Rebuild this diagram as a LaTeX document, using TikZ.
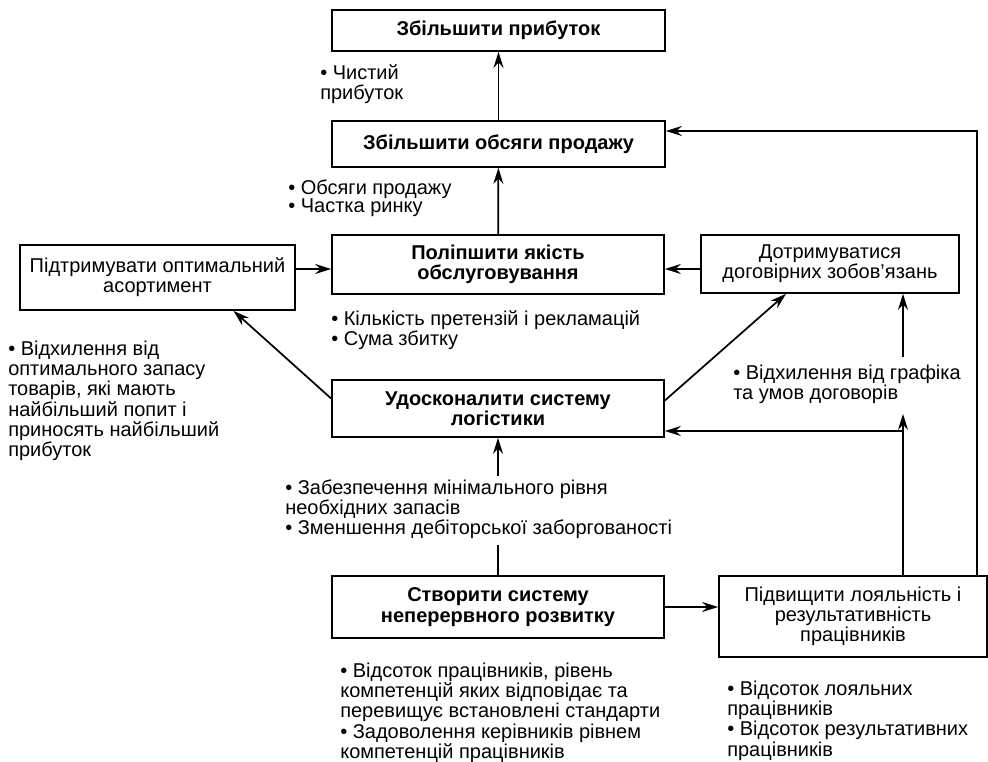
\documentclass[tikz,border=0pt]{standalone}
\usepackage{fontspec}
\setmainfont{Liberation Sans}
\usetikzlibrary{arrows.meta}

\newcommand{\diagfont}[1]{\fontsize{15}{#1}\selectfont\lineskiplimit=-20pt\relax}

\begin{document}
\begin{tikzpicture}[x=0.75pt,y=-0.75pt,
        font=\diagfont{15.2},
        box/.style={draw, line width=1.3pt, align=center, inner sep=0pt},
        goal/.style={box, font=\diagfont{15.2}\bfseries},
        note/.style={anchor=north west, align=left, inner sep=0pt},
        link/.style={line width=1.3pt},
        arr/.style={link, -{Stealth[length=12pt,width=7.5pt,inset=4pt]}}]
    \useasboundingbox (0,0) rectangle (988,762);

    % boxes
    \node[goal, minimum width=249.75pt, minimum height=30.75pt] (profit) at (498.5,30.5) {Збільшити прибуток};
    \node[goal, minimum width=249.75pt, minimum height=34.5pt] (sales) at (498.5,144) {Збільшити обсяги продажу};
    \node[goal, minimum width=249pt, minimum height=44.25pt] (quality) at (498,264.5) {Поліпшити якість\\обслуговування};
    \node[box, minimum width=206.25pt, minimum height=48.75pt] (assort) at (157.5,277.5) {Підтримувати оптимальний\\асортимент};
    \node[box, minimum width=193.5pt, minimum height=43.5pt] (contract) at (830,264) {Дотримуватися\\договірних зобов’язань};
    \node[goal, minimum width=249pt, minimum height=42.75pt] (logist) at (498,408.5) {Удосконалити систему\\логістики};
    \node[goal, minimum width=249pt, minimum height=46.5pt] (develop) at (498,607) {Створити систему\\неперервного розвитку};
    \node[box, minimum width=201pt, minimum height=60.75pt] (loyal) at (853,616.5) {Підвищити лояльність і\\результативність\\працівників};

    % indicators
    \node[note] (netn) at (320,64.5) {\textbullet\ Чистий\\прибуток};
    \node[note, font=\diagfont{13.5}] (salesn) at (288,180) {\textbullet\ Обсяги продажу\\\textbullet\ Частка ринку};
    \node[note] (qualn) at (331,310.5) {\textbullet\ Кількість претензій і рекламацій\\\textbullet\ Сума збитку};
    \node[note] (assortn) at (8,340.5) {\textbullet\ Відхилення від\\оптимального запасу\\товарів, які мають\\найбільший попит і\\приносять найбільший\\прибуток};
    \node[note] (contrn) at (733,364.5) {\textbullet\ Відхилення від графіка\\та умов договорів};
    \node[note] (invn) at (285,479.5) {\textbullet\ Забезпечення мінімального рівня\\необхідних запасів\\\textbullet\ Зменшення дебіторської заборгованості};
    \node[note] (devn) at (340,662.5) {\textbullet\ Відсоток працівників, рівень\\компетенцій яких відповідає та\\перевищує встановлені стандарти\\\textbullet\ Задоволення керівників рівнем\\компетенцій працівників};
    \node[note] (loyn) at (727,680.5) {\textbullet\ Відсоток лояльних\\працівників\\\textbullet\ Відсоток результативних\\працівників};

    \coordinate (rowq) at (0,269);
    \coordinate (vcol) at (903,431);
    \coordinate (ocol) at (977,131);

    % connectors
    \draw[arr] (sales) -- (profit);
    \draw[arr] (quality) -- (sales);
    \draw[arr] (assort.east |- rowq) -- (quality.west |- rowq);
    \draw[arr] (contract.west |- rowq) -- (quality.east |- rowq);
    \draw[arr] ([yshift=7.5pt]logist.west) -- ([xshift=57pt]assort.south);
    \draw[arr] ([yshift=6pt]logist.east) -- ([xshift=-33pt]contract.south);
    \draw[link] (develop) -- ([yshift=-4.5pt]invn.south -| develop.north);
    \draw[arr] ([yshift=2.6pt]invn.north -| develop.north) -- (logist);
    \draw[arr] (develop.east) -- (develop.east -| loyal.west);
    \draw[arr] (loyal.north -| vcol) -- ([yshift=-7.5pt]contrn.south -| vcol);
    \draw[arr] ([yshift=5.6pt]contrn.north -| vcol) -- (contract.south -| vcol);
    \draw[arr] (vcol) -- (logist.east |- vcol);
    \draw[arr] (loyal.north -| ocol) -- (ocol) -- (sales.east |- ocol);
\end{tikzpicture}
\end{document}
